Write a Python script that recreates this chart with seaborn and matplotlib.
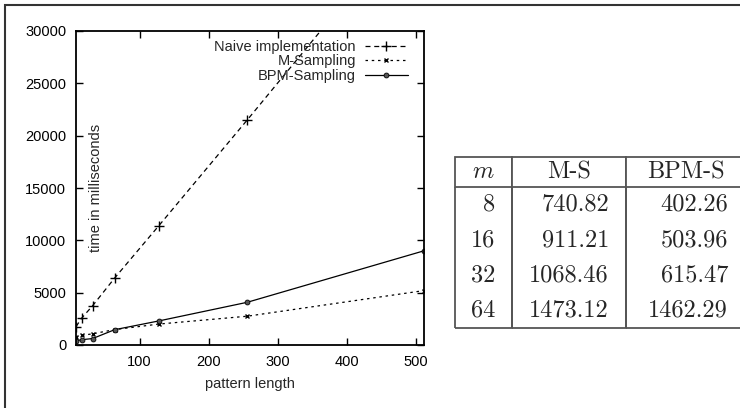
import matplotlib
matplotlib.use("Agg")
import matplotlib.pyplot as plt
from matplotlib.patches import Rectangle
import seaborn as sns

# pattern lengths and running times (ms)
m_values = [8, 16, 32, 64, 128, 256, 512]
naive_ms = [1750, 2550, 3750, 6400, 11400, 21500, 42000]
m_sampling_ms = [740.82, 911.21, 1068.46, 1473.12, 2000, 2750, 5200]
bpm_sampling_ms = [402.26, 503.96, 615.47, 1462.29, 2300, 4080, 9000]

x_ticks = [100, 200, 300, 400, 500]
y_ticks = [0, 5000, 10000, 15000, 20000, 25000, 30000]

# side table
table_header = ["$m$", "M-S", "BPM-S"]
table_m = [8, 16, 32, 64]
table_ms = [740.82, 911.21, 1068.46, 1473.12]
table_bpm = [402.26, 503.96, 615.47, 1462.29]

sns.set_theme(style="ticks")
plt.rcParams["font.family"] = ["Liberation Sans", "DejaVu Sans"]
plt.rcParams["mathtext.fontset"] = "cm"

W, H = 740, 408
fig = plt.figure(figsize=(W / 100, H / 100), dpi=100)
ax = fig.add_axes([76 / W, 1 - 345 / H, (424 - 76) / W, (345 - 31) / H])

sns.lineplot(x=m_values, y=naive_ms, ax=ax, color="black", lw=0.9,
             linestyle=(0, (4, 3)), marker="+", markersize=7, mew=1,
             mec="black", errorbar=None, label="Naive implementation")
sns.lineplot(x=m_values, y=m_sampling_ms, ax=ax, color="black", lw=0.9,
             linestyle=(0, (2, 3)), marker="x", markersize=3.5, mew=1,
             mec="black", errorbar=None, label="M-Sampling")
sns.lineplot(x=m_values, y=bpm_sampling_ms, ax=ax, color="black", lw=0.9,
             linestyle="-", marker="o", markersize=3.5, mfc="#555555",
             mec="black", mew=0.6, errorbar=None, label="BPM-Sampling")

ax.set_xlim(8, 512)
ax.set_ylim(0, 30000)
ax.set_xticks(x_ticks)
ax.set_yticks(y_ticks)
ax.tick_params(direction="in", top=True, right=True, length=5, width=1,
               labelsize=10.5, colors="black", pad=7)
for s in ax.spines.values():
    s.set_linewidth(1.3)
    s.set_color("black")

ax.set_xlabel("pattern length", fontsize=10.5, labelpad=6)
ax.set_ylabel("time in milliseconds", fontsize=10.5)
ax.yaxis.set_label_coords(0.078, 0.5)

ax.legend(loc="upper right", frameon=False, markerfirst=False,
          fontsize=10.5, handlelength=2.9, handletextpad=0.65,
          labelspacing=0.05, borderaxespad=0.3, bbox_to_anchor=(0.982, 1.005))

# table on the right
tax = fig.add_axes([455 / W, 1 - 328 / H, (745 - 455) / W, (328 - 157) / H])
tax.axis("off")
cell_text = [[str(m), f"{a:.2f}", f"{b:.2f}"]
             for m, a, b in zip(table_m, table_ms, table_bpm)]
widths = [57, 114, 119]
tot = sum(widths)
tbl = tax.table(cellText=cell_text, colLabels=table_header,
                colWidths=[w / tot for w in widths], bbox=[0, 0, 1, 1],
                cellLoc="right")
tbl.auto_set_font_size(False)
n_rows = len(cell_text)
for (r, c), cell in tbl.get_celld().items():
    cell.set_edgecolor("#555555")
    cell.set_linewidth(1.3)
    cell.get_text().set_fontsize(17.5)
    cell.get_text().set_fontfamily("cmr10")
    cell.PAD = 17 / widths[c]
    if r == 0:
        cell.visible_edges = "closed"
        cell.get_text().set_horizontalalignment("center")
        cell.set_height(cell.get_height() * 30 / 35)
    elif r == n_rows:
        cell.visible_edges = "LRB"
    else:
        cell.visible_edges = "LR"

# outer frame of the figure (cut off at right and bottom)
fig.add_artist(Rectangle((5 / W, -0.05), 1.1, 1 - 5 / H + 0.05,
                         transform=fig.transFigure, fill=False,
                         edgecolor="#333333", lw=1.5))

fig.savefig("out.png", dpi=100)
